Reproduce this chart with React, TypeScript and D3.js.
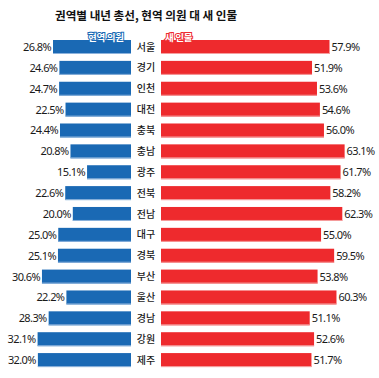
import React from "react";
import * as d3 from "d3";

const title = "권역별 내년 총선, 현역 의원 대 새 인물";
const regions = ["서울","경기","인천","대전","충북","충남","광주","전북","전남","대구","경북","부산","울산","경남","강원","제주"];
const incumbent = [26.8,24.6,24.7,22.5,24.4,20.8,15.1,22.6,20.0,25.0,25.1,30.6,22.2,28.3,32.1,32.0];
const newcomer = [57.9,51.9,53.6,54.6,56.0,63.1,61.7,58.2,62.3,55.0,59.5,53.8,60.3,51.1,52.6,51.7];
const legendLabels = ["현역 의원", "새 인물"];

const BLUE = "#1a69b4";
const RED = "#ee2a2d";

export default function App() {
  const W = 379, H = 378;
  const y = d3.scaleBand<string>().domain(regions).range([36.56, 370.5]).paddingInner(0.33).paddingOuter(0.165);
  const xL = d3.scaleLinear().domain([0, 100]).range([131, 131 - 291]);
  const xR = d3.scaleLinear().domain([0, 100]).range([161, 161 + 291]);
  const bw = y.bandwidth();
  const font = "'Noto Sans CJK KR', 'Noto Sans', sans-serif";
  const numFont = "'Noto Sans', 'Noto Sans CJK KR', sans-serif";
  return (
    <svg width={W} height={H} style={{ position: "absolute", left: 0, top: 0, background: "#fff" }}>
      <text x={55} y={20} fontFamily={font} fontWeight={700} fontSize={11.6} fill="#111">{title}</text>
      {regions.map((r, i) => {
        const yy = y(r)!;
        const x0 = xL(incumbent[i]);
        const x1 = xR(newcomer[i]);
        return (
          <g key={r}>
            <rect x={x0} y={yy} width={xL(0) - x0} height={bw} fill={BLUE} />
            <rect x={x0} y={yy + bw - 1} width={xL(0) - x0} height={1} fill="#8db3dc" />
            <rect x={xR(0)} y={yy} width={x1 - xR(0)} height={bw} fill={RED} />
            <rect x={xR(0)} y={yy + bw - 1} width={x1 - xR(0)} height={1} fill="#f5a0a0" />
            <text x={x0 - 2} y={yy + bw / 2} dy="0.36em" textAnchor="end" fontFamily={numFont} fontSize={11} letterSpacing={-0.6} fill="#1a1a1a">{incumbent[i].toFixed(1)}%</text>
            <text x={x1 + 2} y={yy + bw / 2} dy="0.36em" textAnchor="start" fontFamily={numFont} fontSize={11} letterSpacing={-0.6} fill="#1a1a1a">{newcomer[i].toFixed(1)}%</text>
            <text x={146} y={yy + bw / 2} dy="0.36em" textAnchor="middle" fontFamily={font} fontWeight={500} fontSize={10} fill="#1a1a1a">{r}</text>
          </g>
        );
      })}
      <text x={88} y={41} fontFamily={font} fontWeight={700} fontSize={9.5} fill="#fff" stroke={BLUE} strokeWidth={2} paintOrder="stroke" letterSpacing={-0.3}>{legendLabels[0]}</text>
      <text x={165} y={41} fontFamily={font} fontWeight={700} fontSize={9.5} fill="#fff" stroke={RED} strokeWidth={2} paintOrder="stroke" letterSpacing={-0.3}>{legendLabels[1]}</text>
    </svg>
  );
}
